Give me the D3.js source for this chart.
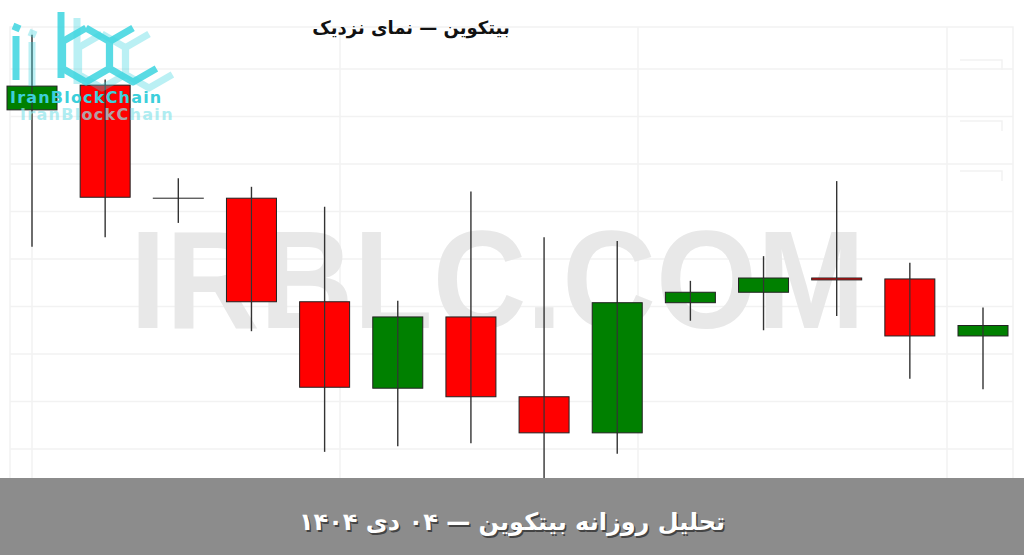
<!DOCTYPE html>
<html>
<head>
<meta charset="utf-8">
<script src="https://cdn.jsdelivr.net/npm/d3@7"></script>
<style>
  body { margin: 0; background: #fff; }
  svg { display: block; }
</style>
</head>
<body>
<div id="chart"></div>
<script>
// candle data (price levels, no axis shown)
var days = ["c1","c2","c3","c4","c5","c6","c7","c8","c9","c10","c11","c12","c13","c14"];
var opens  = [89285, 89415, 88820, 88820, 88275, 87820, 88195, 87775, 87585, 88270, 88325, 88400, 88395, 88095];
var highs  = [89680, 89445, 88925, 88880, 88775, 88280, 88855, 88615, 88595, 88385, 88515, 88910, 88480, 88245];
var lows   = [88565, 88615, 88690, 88120, 87485, 87515, 87530, 87300, 87475, 88175, 88125, 88200, 87870, 87815];
var closes = [89410, 88825, 88820, 88275, 87825, 88195, 87775, 87585, 88270, 88325, 88400, 88390, 88095, 88150];
var gridPrices = [89500, 89250, 89000, 88750, 88500, 88250, 88000, 87750, 87500];

var title = "بیتکوین — نمای نزدیک";
var bannerText = "تحلیل روزانه بیتکوین — ۰۴ دی ۱۴۰۴";
var watermark = "IRBLC.COM";

var W = 1024, H = 555;

var svg = d3.select("#chart").append("svg")
    .attr("width", W)
    .attr("height", H);

var x = d3.scaleBand().domain(days).range([7, 1008]).paddingInner(0.3165).paddingOuter(0);
var y = d3.scaleLinear().domain([87500, 89500]).range([449, 69]);

// faint frame + grid
var grid = svg.append("g").attr("stroke", "#f2f2f2").attr("stroke-width", 1.5);
grid.append("rect").attr("x", 10).attr("y", 27).attr("width", 1003).attr("height", 466)
    .attr("fill", "none");
grid.selectAll(".hg").data(gridPrices).enter().append("line")
    .attr("x1", 10).attr("x2", 1013)
    .attr("y1", d => y(d)).attr("y2", d => y(d));
[32, 340, 638, 947].forEach(function (v) {
    grid.append("line").attr("x1", v).attr("x2", v).attr("y1", 27).attr("y2", 493);
});
// ghost price labels on the right
[60, 121, 171].forEach(function (v) {
    svg.append("path").attr("d", "M960," + v + "H1002V" + (v + 10))
        .attr("fill", "none").attr("stroke", "#f2f2f2").attr("stroke-width", 1.5);
});

// watermark
svg.append("text")
    .attr("x", 130).attr("y", 328)
    .attr("textLength", 735).attr("lengthAdjust", "spacingAndGlyphs")
    .style("font-family", "'Liberation Sans', Arial, sans-serif")
    .style("font-weight", "bold")
    .style("font-size", "140px")
    .attr("fill", "#e8e8e8")
    .text(watermark);

var candles = days.map(function (d, i) {
    return { day: d, o: opens[i], h: highs[i], l: lows[i], c: closes[i] };
});

var g = svg.append("g");
g.selectAll(".wick").data(candles).enter().append("line")
    .attr("class", "wick")
    .attr("x1", d => x(d.day) + x.bandwidth() / 2)
    .attr("x2", d => x(d.day) + x.bandwidth() / 2)
    .attr("y1", d => y(d.h))
    .attr("y2", d => y(d.l))
    .attr("stroke", "#333")
    .attr("stroke-width", 1.4);

g.selectAll(".body").data(candles).enter().append("rect")
    .attr("class", "body")
    .attr("x", d => x(d.day))
    .attr("width", x.bandwidth())
    .attr("y", d => y(Math.max(d.o, d.c)))
    .attr("height", d => Math.max(0.01, Math.abs(y(d.o) - y(d.c))))
    .attr("fill", d => d.c > d.o ? "#008000" : (d.c < d.o ? "#ff0000" : "#222"))
    .attr("stroke", "#222")
    .attr("stroke-width", 1);

// wick drawn again over the bodies
g.selectAll(".wick2").data(candles).enter().append("line")
    .attr("x1", d => x(d.day) + x.bandwidth() / 2)
    .attr("x2", d => x(d.day) + x.bandwidth() / 2)
    .attr("y1", d => y(Math.max(d.o, d.c)))
    .attr("y2", d => y(Math.min(d.o, d.c)))
    .attr("stroke", "#333")
    .attr("stroke-width", 1.2);

// logo
var logo = svg.append("g").attr("fill", "none").attr("stroke-linejoin", "round");
function hex(cx, cy, r, open) {
    var pts = d3.range(7).map(function (k) {
        var a = Math.PI / 3 * k - Math.PI / 2;
        return [cx + r * Math.cos(a), cy + r * Math.sin(a)];
    });
    if (open) pts = pts.slice(2, 7);
    return d3.line()(pts);
}
[[16, 6, 0.35], [0, 0, 0.85]].forEach(function (s) {
    var lg = logo.append("g").attr("transform", "translate(" + s[0] + "," + s[1] + ")")
        .attr("stroke", "#3dd5e0").attr("stroke-width", 7).attr("opacity", s[2]);
    lg.append("line").attr("x1", 16).attr("x2", 16).attr("y1", 36).attr("y2", 80);
    lg.append("line").attr("x1", 13).attr("x2", 20).attr("y1", 26).attr("y2", 29);
    lg.append("line").attr("x1", 61).attr("x2", 61).attr("y1", 12).attr("y2", 78);
    lg.append("path").attr("d", hex(86, 55, 27, false));
    lg.append("path").attr("d", hex(133, 55, 27, true));
});
logo.append("text").attr("x", 20).attr("y", 120)
    .attr("stroke", "none").attr("fill", "#8fe6ec").attr("opacity", 0.7)
    .style("font-family", "'DejaVu Sans', sans-serif").style("font-weight", "bold")
    .style("font-size", "16px").style("letter-spacing", "1.3px")
    .text("IranBlockChain");
logo.append("text").attr("x", 10).attr("y", 103)
    .attr("stroke", "none").attr("fill", "#3ccfdb")
    .style("font-family", "'DejaVu Sans', sans-serif").style("font-weight", "bold")
    .style("font-size", "16px").style("letter-spacing", "1.2px")
    .text("IranBlockChain");

// title
svg.append("text")
    .attr("x", 411).attr("y", 34)
    .attr("text-anchor", "middle")
    .attr("direction", "rtl")
    .style("font-family", "'DejaVu Sans', sans-serif")
    .style("font-weight", "bold")
    .style("font-size", "18px")
    .attr("fill", "#111")
    .text(title);

// bottom banner
svg.append("rect").attr("x", 0).attr("y", 478).attr("width", W).attr("height", H - 478)
    .attr("fill", "#8c8c8c");
[["#444", 1.5], ["#fff", 0]].forEach(function (s) {
    svg.append("text")
        .attr("x", 512 + s[1]).attr("y", 530 + s[1])
        .attr("text-anchor", "middle")
        .attr("direction", "rtl")
        .style("font-family", "'DejaVu Sans', sans-serif")
        .style("font-weight", "bold")
        .style("font-size", "24px")
        .attr("fill", s[0])
        .text(bannerText);
});
</script>
</body>
</html>
